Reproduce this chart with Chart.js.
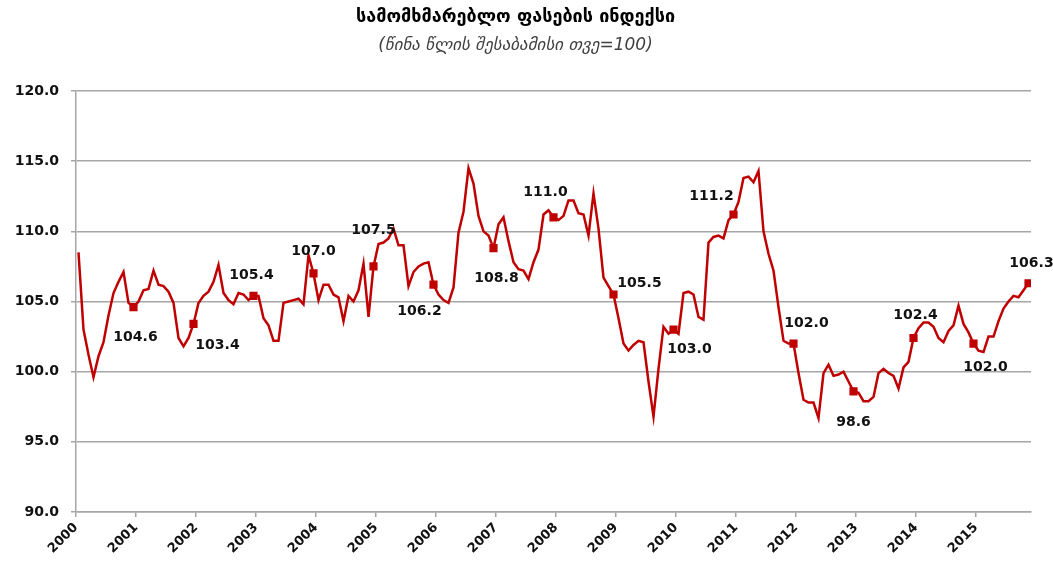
<!DOCTYPE html>
<html>
<head>
<meta charset="utf-8">
<script src="https://cdn.jsdelivr.net/npm/chart.js@4"></script>
<style>
  body { margin: 0; background: #fff; }
  #wrap { width: 1053px; height: 563px; }
</style>
</head>
<body>
<div id="wrap"><canvas id="cpiChart" width="1053" height="563"></canvas></div>
<script>
// years on the axis, monthly values Jan 2000 - Nov 2015
const years = [2000, 2001, 2002, 2003, 2004, 2005, 2006, 2007, 2008, 2009, 2010, 2011, 2012, 2013, 2014, 2015];

const cpi = [
  108.5, 103.0, 101.2, 99.6, 101.1, 102.1, 104.0, 105.6, 106.4, 107.1, 104.9, 104.6, // 2000
  105.0, 105.8, 105.9, 107.2, 106.2, 106.1, 105.7, 104.9, 102.4, 101.8, 102.4, 103.4, // 2001
  104.9, 105.4, 105.7, 106.4, 107.6, 105.6, 105.1, 104.8, 105.6, 105.5, 105.1, 105.4, // 2002
  105.4, 103.8, 103.3, 102.2, 102.2, 104.9, 105.0, 105.1, 105.2, 104.8, 108.3, 107.0, // 2003
  105.1, 106.2, 106.2, 105.5, 105.3, 103.6, 105.4, 105.0, 105.8, 107.7, 103.9, 107.5, // 2004
  109.1, 109.2, 109.5, 110.2, 109.0, 109.0, 106.1, 107.1, 107.5, 107.7, 107.8, 106.2, // 2005
  105.5, 105.1, 104.9, 106.0, 109.9, 111.4, 114.5, 113.4, 111.1, 110.0, 109.7, 108.8, // 2006
  110.5, 111.0, 109.3, 107.8, 107.3, 107.2, 106.6, 107.8, 108.7, 111.2, 111.5, 111.0, // 2007
  110.8, 111.1, 112.2, 112.2, 111.3, 111.2, 109.7, 112.7, 110.2, 106.7, 106.1, 105.5, // 2008
  103.8, 102.0, 101.5, 101.9, 102.2, 102.1, 99.3, 96.8, 100.2, 103.2, 102.7, 103.0,   // 2009
  102.7, 105.6, 105.7, 105.5, 103.9, 103.7, 109.2, 109.6, 109.7, 109.5, 110.8, 111.2, // 2010
  112.1, 113.8, 113.9, 113.5, 114.3, 110.0, 108.4, 107.2, 104.6, 102.2, 102.0, 102.0, // 2011
  99.9, 98.0, 97.8, 97.8, 96.7, 99.9, 100.5, 99.7, 99.8, 100.0, 99.3, 98.6,           // 2012
  98.5, 97.9, 97.9, 98.2, 99.9, 100.2, 99.9, 99.7, 98.8, 100.3, 100.7, 102.4,         // 2013
  103.1, 103.5, 103.5, 103.2, 102.4, 102.1, 102.9, 103.3, 104.7, 103.4, 102.8, 102.0, // 2014
  101.5, 101.4, 102.5, 102.5, 103.6, 104.5, 105.0, 105.4, 105.3, 105.8, 106.3         // 2015
];

const yTicks = [90, 95, 100, 105, 110, 115, 120];

// December points plus the last one get a marker and a label
const lastIdx = cpi.length - 1;
const isMarked = (i) => i % 12 === 11 || i === lastIdx;

// where each label sits relative to its marker (dx, dy in px)
const labelOffsets = [
  [2, 30], [24, 21], [-2, -21], [0, -22], [0, -36], [-14, 27], [3, 30], [-8, -25],
  [26, -11], [16, 20], [-22, -18], [13, -20], [0, 31], [2, -23], [12, 24], [3, -20]
];

const pointLabels = {
  id: "pointLabels",
  afterDatasetsDraw(chart) {
    const ctx = chart.ctx;
    const meta = chart.getDatasetMeta(0);
    ctx.save();
    ctx.font = "bold 14px 'DejaVu Sans'";
    ctx.fillStyle = "#111";
    ctx.textAlign = "center";
    ctx.textBaseline = "middle";
    let k = 0;
    cpi.forEach((v, i) => {
      if (!isMarked(i)) return;
      const pt = meta.data[i];
      const off = labelOffsets[k++] || [0, -20];
      ctx.fillText(v.toFixed(1), pt.x + off[0], pt.y + off[1]);
    });
    ctx.restore();
  },
};

const gridGray = "#a6a6a6";

new Chart(document.getElementById("cpiChart"), {
  type: "line",
  data: {
    datasets: [
      {
        data: cpi.map((v, i) => ({ x: i + 0.5, y: v })),
        borderColor: "#c00000",
        backgroundColor: "#c00000",
        borderWidth: 2.5,
        tension: 0,
        pointStyle: "rect",
        pointRadius: (c) => (isMarked(c.dataIndex) ? 4 : 0),
        pointHoverRadius: 0,
      },
    ],
  },
  options: {
    responsive: false,
    animation: false,
    layout: { padding: { left: 0, right: 22, top: 0, bottom: 0 } },
    plugins: {
      legend: { display: false },
      tooltip: { enabled: false },
      title: {
        display: true,
        text: "სამომხმარებლო ფასების ინდექსი",
        color: "#000",
        font: { family: "'DejaVu Sans'", size: 18, weight: "bold" },
        padding: { top: 7, bottom: 6 },
      },
      subtitle: {
        display: true,
        text: "(წინა წლის შესაბამისი თვე=100)",
        color: "#404040",
        font: { family: "'DejaVu Sans'", size: 17, style: "italic" },
        padding: { top: 1, bottom: 35 },
      },
    },
    scales: {
      x: {
        type: "linear",
        min: 0,
        max: cpi.length,
        afterFit: (s) => { s.height = 51; },
        border: { color: gridGray, width: 1.5 },
        grid: { drawOnChartArea: false, color: gridGray, tickLength: 5, lineWidth: 1.5 },
        ticks: {
          stepSize: 12,
          includeBounds: false,
          minRotation: 45,
          maxRotation: 45,
          color: "#111",
          font: { family: "'DejaVu Sans'", size: 13, weight: "bold" },
          callback: (v) => years[v / 12],
        },
      },
      y: {
        min: yTicks[0],
        max: yTicks[yTicks.length - 1],
        afterFit: (s) => { s.width = 76; },
        border: { color: gridGray, width: 1.5 },
        grid: { color: gridGray, lineWidth: 1.5, tickLength: 5 },
        ticks: {
          stepSize: 5,
          padding: 12,
          color: "#111",
          font: { family: "'DejaVu Sans'", size: 14, weight: "bold" },
          callback: (v) => v.toFixed(1),
        },
      },
    },
  },
  plugins: [pointLabels],
});
</script>
</body>
</html>
